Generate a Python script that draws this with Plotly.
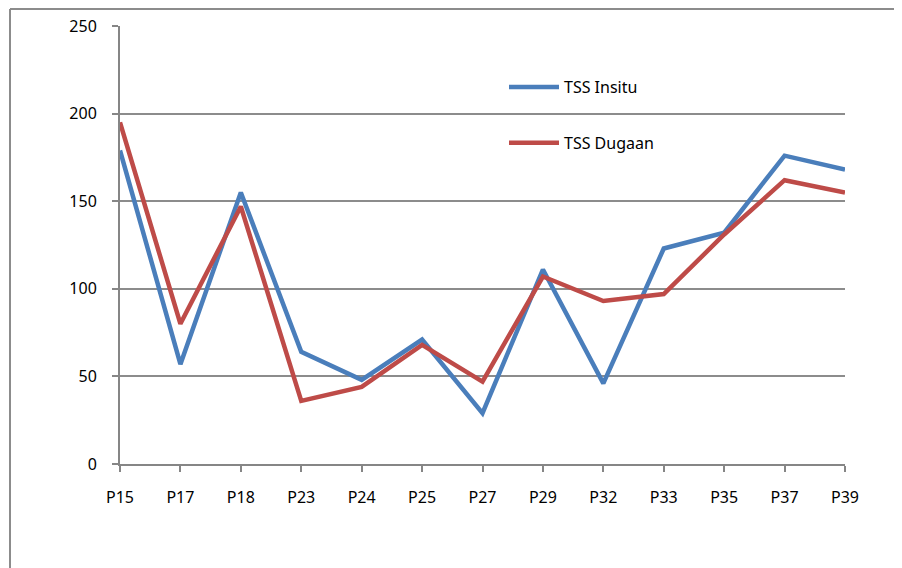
import plotly.graph_objects as go

categories = ["P15", "P17", "P18", "P23", "P24", "P25", "P27", "P29", "P32", "P33", "P35", "P37", "P39"]
tss_insitu = [179, 57, 155, 64, 48, 71, 29, 111, 46, 123, 132, 176, 168]
tss_dugaan = [195, 80, 147, 36, 44, 68, 47, 107, 93, 97, 131, 162, 155]
y_ticks = [0, 50, 100, 150, 200, 250]

# page body has an 8px default margin
OFF = 8
W, H = 894, 560
L, T = 120 - OFF, 26 - OFF
R = OFF + W - 845
B = OFF + H - 464
pw, ph = W - L - R, H - T - B

fig = go.Figure()
fig.add_trace(go.Scatter(x=categories, y=tss_insitu, mode="lines", name="TSS Insitu",
                         legendgroup="a", line=dict(color="#4A7EBB", width=4.5)))
fig.add_trace(go.Scatter(x=categories, y=tss_dugaan, mode="lines", name="TSS Dugaan",
                         legendgroup="b", line=dict(color="#BE4B48", width=4.5)))

fx = (10 - OFF - L) / pw
fy = 1 + (T - (9 - OFF)) / ph
frame = dict(color="#8C8C8C", width=2)
shapes = [
    dict(type="line", xref="paper", yref="paper", x0=fx, x1=1.2, y0=fy, y1=fy, line=frame),
    dict(type="line", xref="paper", yref="paper", x0=fx, x1=fx, y0=fy, y1=-0.4, line=frame),
]

fig.update_layout(
    width=W, height=H,
    margin=dict(l=L, r=R, t=T, b=B, autoexpand=False),
    paper_bgcolor="white", plot_bgcolor="white",
    font=dict(family="Noto Sans, Open Sans, sans-serif", size=16, color="#000000"),
    showlegend=True,
    legend=dict(x=(504 - OFF - L) / pw, y=1 - (70 - OFF - T) / ph, xanchor="left", yanchor="top",
                traceorder="grouped", tracegroupgap=32, font=dict(size=16),
                bgcolor="rgba(0,0,0,0)", itemwidth=50),
    shapes=shapes,
    xaxis=dict(type="category", range=[0, len(categories) - 1], showgrid=False,
               showline=True, linecolor="#868686", linewidth=2,
               ticks="outside", ticklen=6, tickcolor="#868686", tickwidth=2,
               ticklabelstandoff=12, tickfont=dict(size=16)),
    yaxis=dict(range=[0, 250], tickvals=y_ticks, showgrid=True, gridcolor="#8C8C8C", gridwidth=1.5,
               showline=True, linecolor="#868686", linewidth=2, zeroline=False,
               ticks="outside", ticklen=6, tickcolor="#868686", tickwidth=2,
               ticklabelstandoff=12, tickfont=dict(size=16)),
)

fig.write_html("out.html")
